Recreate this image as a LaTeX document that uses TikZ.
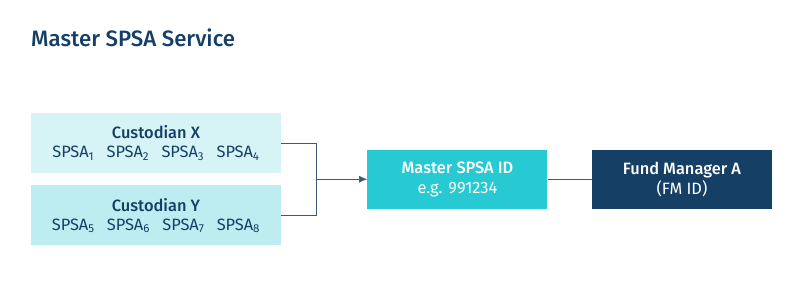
\documentclass[tikz,border=0pt]{standalone}
\usepackage{fontspec}
\setmainfont{Fira Sans}[BoldFont={Fira Sans Medium}]
\usetikzlibrary{arrows.meta,positioning,calc}
\definecolor{navy}{HTML}{163F66}
\definecolor{custx}{HTML}{D6F3F5}
\definecolor{custy}{HTML}{BDEDF1}
\definecolor{teal}{HTML}{27CAD3}
\definecolor{wire}{HTML}{3E5878}
\newcommand{\spsa}[1]{SPSA\textsubscript{#1}}
\begin{document}
\begin{tikzpicture}[
  node distance=3.6mm,
  every node/.style={font=\fontsize{14}{17}\selectfont, align=center, text=navy},
  box/.style={minimum width=7.5cm, minimum height=1.8cm, inner sep=3pt},
  idbox/.style={minimum width=5.4cm, minimum height=1.77cm, inner sep=3pt, text=white},
  wireline/.style={draw=wire, line width=0.6pt},
  >={Latex[length=7pt,width=6pt]}
]
\useasboundingbox (0,0) rectangle (24.03,-9.03);
\node[anchor=west, inner sep=0pt, font=\fontsize{19}{22}\selectfont\bfseries] (title) at (0.93,-1.14) {Master SPSA Service};
\node[box, fill=custx] (custX) at (4.68,-4.29) {\textbf{Custodian X}\\[-1pt]\spsa{1}\hspace{0.75em}\spsa{2}\hspace{0.75em}\spsa{3}\hspace{0.75em}\spsa{4}};
\node[box, fill=custy, below=of custX] (custY) {\textbf{Custodian Y}\\[-1pt]\spsa{5}\hspace{0.75em}\spsa{6}\hspace{0.75em}\spsa{7}\hspace{0.75em}\spsa{8}};
\coordinate (mid) at ($(custX.east)!0.5!(custY.east)$);
\coordinate (junc) at ($(mid)+(1.05,0)$);
\node[idbox, fill=teal, right=2.58cm of mid, anchor=west] (master) {\textbf{Master SPSA ID}\\e.g. 991234};
\node[idbox, fill=navy, right=1.32cm of master] (fm) {\textbf{Fund Manager A}\\(FM ID)};
\draw[wireline] (custX.east) -| (junc) |- (custY.east);
\draw[wireline, ->] (junc) -- (master);
\draw[wireline] (master) -- (fm);
\end{tikzpicture}
\end{document}
